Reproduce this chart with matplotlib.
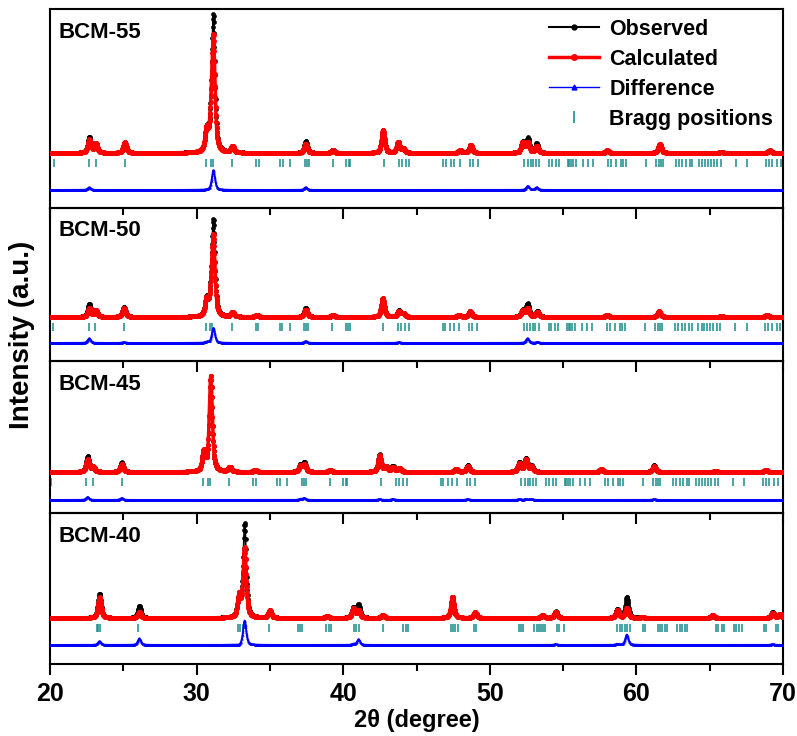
import numpy as np
import matplotlib.pyplot as plt
from matplotlib.lines import Line2D
from matplotlib.ticker import MultipleLocator

plt.rcParams['font.family'] = ['Liberation Sans', 'DejaVu Sans']
plt.rcParams['font.weight'] = 'bold'

samples = ["BCM-55", "BCM-50", "BCM-45", "BCM-40"]

# peaks: 2theta, observed and calculated height
# (in % of the strongest observed line of each pattern)
pos_55 = [22.68, 23.13, 25.10, 30.68, 30.97, 31.15, 32.45, 37.45, 39.30, 42.72, 43.75,
          44.10, 47.98, 48.70, 52.25, 52.60, 53.20, 58.00, 61.60, 65.80, 69.10]
obs_55 = [12, 7, 8, 16, 15, 100, 5, 9, 2, 17, 8, 3, 2, 6, 8, 11, 7, 2, 7, 1, 2]
calc_55 = [10, 7, 8, 16, 15, 85, 5, 7, 2, 17, 8, 3, 2, 6, 8, 8, 5, 2, 7, 1, 2]

pos_50 = [22.68, 23.13, 25.05, 30.68, 30.97, 31.15, 32.45, 34.10, 37.45, 39.30, 42.70,
          43.80, 44.10, 47.90, 48.66, 52.25, 52.58, 53.25, 58.00, 61.55, 65.80, 68.90]
obs_50 = [14, 7, 11, 18, 15, 100, 5, 2, 10, 2, 20, 7, 4, 2, 6, 7, 14, 6, 2, 6, 1, 2]
calc_50 = [9, 7, 10, 17, 15, 84, 5, 2, 8, 2, 20, 6, 4, 2, 6, 7, 9, 5, 2, 6, 1, 2]

pos_45 = [22.57, 22.95, 24.90, 30.49, 30.97, 32.26, 34.00, 37.08, 37.35, 39.10, 42.48,
          42.93, 43.39, 43.84, 47.70, 48.50, 52.02, 52.47, 52.85, 57.60, 61.21, 65.40, 68.82]
obs_45 = [16, 5, 10, 20, 100, 5, 2, 7, 10, 2, 18, 5, 6, 4, 3, 7, 10, 14, 6, 3, 7, 1, 2]
calc_45 = [13, 5, 8, 20, 100, 5, 2, 6, 8, 2, 17, 5, 5, 4, 3, 6, 9, 13, 5, 3, 6, 1, 2]

pos_40 = [23.38, 26.10, 32.90, 33.28, 35.00, 38.90, 40.70, 41.05, 42.70, 47.45, 49.00,
          53.60, 54.50, 58.70, 59.35, 60.40, 65.20, 69.30, 69.80]
obs_40 = [26, 13, 22, 100, 8, 2, 11, 14, 3, 22, 6, 3, 7, 9, 22, 1, 3, 6, 4]
calc_40 = [22, 6, 23, 74, 8, 2, 10, 8, 3, 22, 6, 3, 6, 8, 11, 1, 3, 5, 4]

# Bragg reflections (2theta)
bragg_55 = [20.27, 22.68, 23.13, 25.11, 30.67, 30.97, 31.12, 32.44, 34.08, 34.26, 35.71,
            35.89, 36.39, 37.37, 37.53, 37.67, 39.30, 40.21, 40.37, 40.48, 42.77, 43.80,
            44.02, 44.25, 44.52, 46.84, 47.02, 47.36, 47.59, 47.98, 48.66, 48.84, 49.18,
            52.36, 52.58, 52.81, 52.97, 53.15, 53.38, 54.06, 54.24, 54.52, 54.69, 55.31,
            55.42, 55.53, 55.65, 55.88, 56.33, 56.67, 57.01, 58.03, 58.26, 58.60, 58.94,
            59.10, 59.28, 60.65, 61.33, 61.51, 61.66, 61.83, 62.69, 62.92, 63.14, 63.37,
            63.64, 63.82, 64.28, 64.50, 64.69, 64.87, 65.07, 65.30, 65.53, 65.76, 66.78,
            67.57, 68.82, 69.05, 69.27, 69.61, 69.84]
# BCM-50 and BCM-45 index on the same cell, shifted slightly
bragg_shift = [0.0, -0.05, -0.2]
bragg_40 = [23.18, 23.29, 23.41, 26.02, 32.83, 32.99, 33.17, 34.94, 36.92, 37.08, 37.21,
            38.85, 39.03, 39.19, 40.71, 40.89, 41.07, 42.71, 44.11, 44.25, 44.41, 47.36,
            47.52, 47.66, 47.81, 48.95, 49.07, 52.02, 52.13, 52.29, 53.04, 53.20, 53.38,
            53.49, 53.65, 53.79, 54.56, 54.69, 55.08, 58.71, 58.87, 59.05, 59.24, 59.39,
            59.56, 60.46, 60.60, 61.44, 61.60, 61.78, 61.96, 62.12, 62.80, 62.96, 63.14,
            63.32, 63.48, 65.41, 65.59, 65.82, 65.98, 66.66, 66.82, 67.00, 67.19, 68.71,
            68.86, 69.50, 69.68]

peaks = [(pos_55, obs_55, calc_55), (pos_50, obs_50, calc_50),
         (pos_45, obs_45, calc_45), (pos_40, obs_40, calc_40)]
braggs = [np.array(bragg_55) + bragg_shift[0], np.array(bragg_55) + bragg_shift[1],
          np.array(bragg_55) + bragg_shift[2], np.array(bragg_40)]

tth = np.arange(20.0, 70.0001, 0.02)


def profile(pos, height, fwhm=0.25, eta=0.6):
    y = np.zeros_like(tth)
    for p, h in zip(pos, height):
        d = (tth - p) / (fwhm / 2)
        y += h * (eta / (1 + d ** 2) + (1 - eta) * np.exp(-np.log(2) * d ** 2))
    return y


# panel layout in pixels: height, baseline, bragg row, difference row, top of strongest peak
heights = [199, 153, 152, 151]
base_px = [55, 44, 41, 46]
bragg_px = [45, 34, 31, 36]
diff_px = [18, 18, 13, 19]
top_px = [187, 137, 137, 140]

fig = plt.figure(figsize=(7.97, 7.36), dpi=100)
gs = fig.add_gridspec(4, 1, height_ratios=heights, hspace=0,
                      left=50 / 797, right=783 / 797, top=1 - 9 / 736, bottom=1 - 664 / 736)

for i in range(4):
    ax = fig.add_subplot(gs[i])
    ax.set_facecolor('none')
    pos, ob, ca = peaks[i]
    y_obs = profile(pos, ob)
    y_calc = profile(pos, ca)
    s = (top_px[i] - base_px[i]) / 100.0

    ax.plot(tth, base_px[i] + s * y_obs, color='black', lw=1.2, marker='o', ms=3.4,
            mew=0, zorder=3)
    ax.plot(tth, base_px[i] + s * y_calc, color='red', lw=2.5, marker='o', ms=3.6,
            mew=0, zorder=4)
    ax.plot(tth, diff_px[i] + s * (y_obs - y_calc), color='blue', lw=1.4, marker='^',
            ms=1.6, mew=0, zorder=3)
    b = braggs[i]
    ax.plot(b, np.full(len(b), bragg_px[i]), ls='none', marker='|', ms=6, mew=1.1,
            color='#1a8c8c', zorder=2)

    ax.set_xlim(20, 70)
    ax.set_ylim(0, heights[i])
    ax.set_yticks([])
    ax.xaxis.set_major_locator(MultipleLocator(10))
    ax.xaxis.set_minor_locator(MultipleLocator(5))
    ax.tick_params(axis='x', which='major', direction='out', length=8, width=1.5,
                   labelsize=18, pad=5)
    ax.tick_params(axis='x', which='minor', direction='out', length=5, width=1.5)
    for sp in ax.spines.values():
        sp.set_linewidth(1.5)
    if i < 3:
        ax.tick_params(axis='x', labelbottom=False)
    ax.text(0.011, 1 - 23 / heights[i], samples[i], transform=ax.transAxes,
            fontsize=16, fontweight='bold', va='center', ha='left')

    if i == 0:
        handles = [
            Line2D([], [], color='black', lw=1.5, marker='o', ms=3.5),
            Line2D([], [], color='red', lw=2.5, marker='o', ms=4),
            Line2D([], [], color='blue', lw=1, marker='^', ms=3.5),
            Line2D([], [], color='#1a8c8c', ls='none', marker='|', ms=8, mew=1.2),
        ]
        ax.legend(handles, ["Observed", "Calculated", "Difference", "Bragg positions"],
                  loc='upper right', frameon=False, handlelength=2.3,
                  handletextpad=0.5, labelspacing=0.42, borderaxespad=0.05,
                  prop={'weight': 'bold', 'size': 15.5})
    if i == 3:
        ax.set_xlabel("2θ (degree)", fontsize=17, fontweight='bold', labelpad=2)

fig.text(0.028, 0.545, "Intensity (a.u.)", rotation=90, fontsize=20, fontweight='bold',
         va='center', ha='center')

fig.savefig("out.png", dpi=100)
